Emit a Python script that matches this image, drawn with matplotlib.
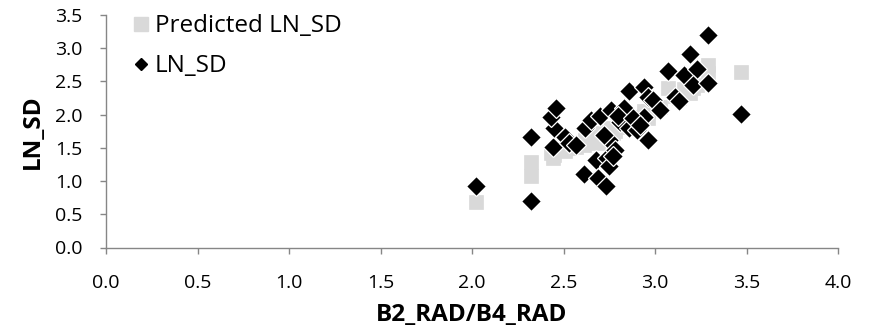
import matplotlib
matplotlib.use("Agg")
import matplotlib.pyplot as plt
from matplotlib.lines import Line2D

plt.rcParams['font.family'] = ['Open Sans', 'DejaVu Sans']

# B2_RAD/B4_RAD ratio
ratio = [2.02, 2.32, 2.32, 2.44, 2.45, 2.43, 2.46, 2.51, 2.53, 2.61,
         2.62, 2.65, 2.68, 2.69, 2.70, 2.73, 2.74, 2.75, 2.75, 2.76,
         2.78, 2.77, 2.81, 2.83, 2.86, 2.86, 2.90, 2.94, 2.94, 2.96,
         2.96, 2.99, 3.03, 3.07, 3.11, 3.16, 3.19, 3.23, 3.21, 3.29,
         3.29, 3.47, 2.80, 2.88, 2.72, 2.92, 3.13, 2.57]
# observed LN_SD
ln_sd = [0.92, 0.70, 1.66, 1.52, 1.80, 1.97, 2.10, 1.67, 1.58, 1.11,
         1.80, 1.92, 1.32, 1.04, 1.98, 0.93, 1.34, 1.22, 1.62, 2.07,
         1.47, 1.38, 1.89, 2.10, 2.35, 1.80, 1.77, 2.42, 1.97, 2.27,
         1.62, 2.22, 2.07, 2.65, 2.27, 2.60, 2.92, 2.68, 2.45, 2.48,
         3.20, 2.01, 1.98, 1.95, 1.70, 1.85, 2.20, 1.55]
# predicted LN_SD
pred_ln_sd = [0.69, 1.07, 1.28, 1.35, 1.40, 1.42, 1.48, 1.45, 1.50, 1.55,
              1.62, 1.68, 1.60, 1.58, 1.72, 1.62, 1.66, 1.65, 1.74, 1.80,
              1.75, 1.72, 1.82, 1.88, 1.95, 1.86, 1.90, 2.05, 1.98, 2.05,
              1.95, 2.08, 2.12, 2.40, 2.28, 2.38, 2.33, 2.45, 2.40, 2.75,
              2.62, 2.64, 1.85, 1.92, 1.70, 1.96, 2.25, 1.52]

xticks = [0.0, 0.5, 1.0, 1.5, 2.0, 2.5, 3.0, 3.5, 4.0]
yticks = [0.0, 0.5, 1.0, 1.5, 2.0, 2.5, 3.0, 3.5]

fig = plt.figure(figsize=(8.71, 3.33), dpi=100)
ax = fig.add_axes([106/871, 1 - 247.5/333, (838 - 106)/871, (247.5 - 15)/333])

ax.plot(ratio, pred_ln_sd, linestyle='none', marker='s', markersize=9.6,
        markerfacecolor='#D9D9D9', markeredgecolor='#D9D9D9', markeredgewidth=0.5, zorder=2)
ax.plot(ratio, ln_sd, linestyle='none', marker='D', markersize=9.8,
        markerfacecolor='black', markeredgecolor='white', markeredgewidth=0.9, zorder=3)

ax.set_xlim(0, 4.0)
ax.set_ylim(0, 3.5)
ax.set_xticks(xticks)
ax.set_yticks(yticks)
ax.set_xticklabels([f"{v:.1f}" for v in xticks])
ax.set_yticklabels([f"{v:.1f}" for v in yticks])

for s in ['top', 'right']:
    ax.spines[s].set_visible(False)
for s in ['left', 'bottom']:
    ax.spines[s].set_color('#868686')
    ax.spines[s].set_linewidth(1.0)
ax.tick_params(axis='both', direction='out', length=4, width=1.0, color='#868686',
               labelsize=14, labelcolor='black')
ax.tick_params(axis='x', pad=15)
ax.tick_params(axis='y', pad=13)

ax.set_xlabel('B2_RAD/B4_RAD', fontsize=17.5, fontweight='bold', labelpad=8)
ax.set_ylabel('LN_SD', fontsize=17.5, fontweight='bold', labelpad=7)

handles = [
    Line2D([], [], linestyle='none', marker='s', markersize=10,
           markerfacecolor='#D9D9D9', markeredgecolor='#D9D9D9'),
    Line2D([], [], linestyle='none', marker='D', markersize=6.2,
           markerfacecolor='black', markeredgecolor='black'),
]
ax.legend(handles, ['Predicted LN_SD', 'LN_SD'], loc='upper left',
          bbox_to_anchor=(0.0383, 1.004), frameon=False, fontsize=17.5,
          handlelength=0.6, handletextpad=0.26, labelspacing=0.66,
          borderaxespad=0, borderpad=0)

fig.savefig('out.png', dpi=100)
